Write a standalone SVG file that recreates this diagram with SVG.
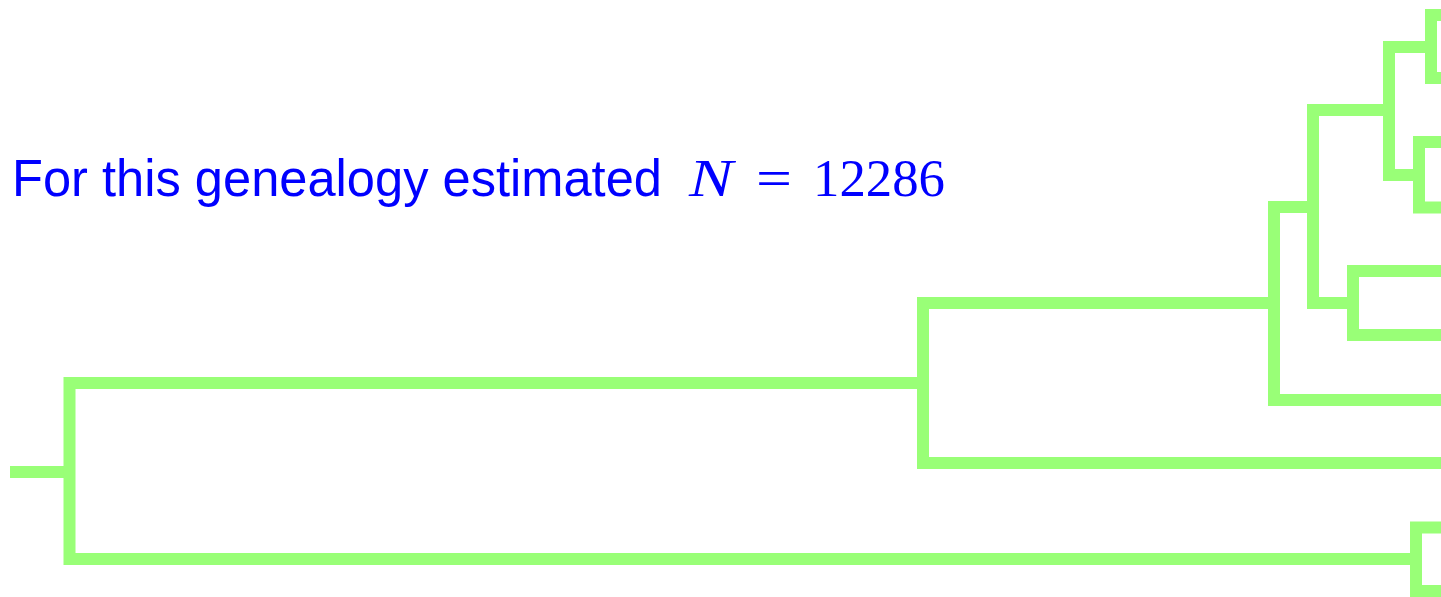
<svg xmlns="http://www.w3.org/2000/svg" width="1441" height="597" viewBox="0 0 1441 597">
  <style>
    .br { fill: none; stroke: #99ff77; stroke-width: 12; stroke-linejoin: miter; stroke-linecap: butt; }
    .lbl { fill: #0000ff; font-family: "Liberation Sans", "DejaVu Sans", sans-serif; font-size: 52px; }
    .math { fill: #0000ff; font-family: "Liberation Serif", "DejaVu Serif", serif; font-size: 53px; }
  </style>
  <rect width="1441" height="597" fill="#ffffff"/>

  <!-- title with the estimate -->
  <g id="title">
    <text class="lbl" x="12" y="196" textLength="650" lengthAdjust="spacingAndGlyphs">For this genealogy estimated</text>
    <text class="math" x="689" y="196" font-style="italic" font-size="55" textLength="44" lengthAdjust="spacingAndGlyphs">N</text>
    <text class="math" x="756" y="196" textLength="36" lengthAdjust="spacingAndGlyphs">=</text>
    <text class="math" x="813" y="196" textLength="132" lengthAdjust="spacingAndGlyphs">12286</text>
  </g>

  <!-- genealogy: each internal node is a bracket joining its two children -->
  <g id="connectors">
    <path class="br" d="M10 472 H69.5"/>
  </g>
  <g id="node-root"><path class="br" d="M923 383 H69.5 V559 H1416"/></g>
  <g id="node-a"><path class="br" d="M1274 303 H923 V463 H1441"/></g>
  <g id="node-b"><path class="br" d="M1313 207 H1274 V400 H1441"/></g>
  <g id="node-c"><path class="br" d="M1389 110 H1313 V303 H1353"/></g>
  <g id="node-d"><path class="br" d="M1441 271 H1353 V335 H1441"/></g>
  <g id="node-e"><path class="br" d="M1431 47 H1389 V175 H1419"/></g>
  <g id="node-f"><path class="br" d="M1441 15 H1431 V78 H1441"/></g>
  <g id="node-g"><path class="br" d="M1441 142 H1419 V207.5 H1441"/></g>
  <g id="node-h"><path class="br" d="M1441 527.5 H1416 V591 H1441"/></g>
</svg>
